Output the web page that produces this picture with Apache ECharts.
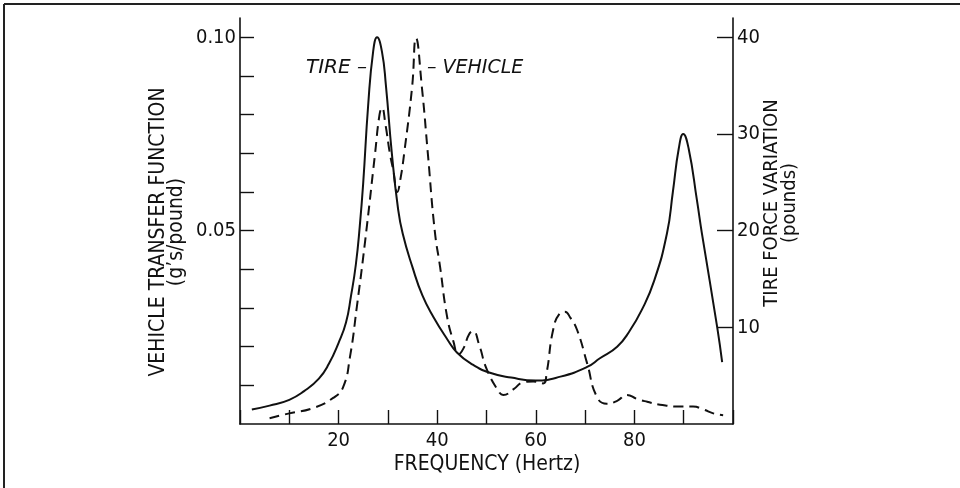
<!DOCTYPE html>
<html>
<head>
<meta charset="utf-8">
<script src="https://cdn.jsdelivr.net/npm/echarts@6/dist/echarts.min.js"></script>
<style>html,body{margin:0;padding:0;background:#fff}#c{width:960px;height:488px}</style>
</head>
<body>
<div id="c"></div>
<script>
// Frequency (Hertz) and tire force variation (pounds) – solid curve
const tireFreq = [2.4, 6, 10, 13, 16, 18, 20, 21.5, 22.5, 23.5, 24.3, 25, 26, 27, 27.8, 28.8, 29.6, 30.8, 32, 33, 35, 37, 39.2, 42, 44, 47, 50.7, 55, 60, 65, 70.4, 73, 76.5, 79, 81.5, 84, 86.6, 87.8, 89, 89.9, 91, 92.7, 93.7, 96.8, 97.8];
const tireForce = [1.5, 1.9, 2.5, 3.4, 4.7, 6.2, 8.4, 10.5, 13.2, 16.5, 20.5, 25, 33, 38.5, 40, 38.5, 35, 28, 22.5, 19.7, 16.2, 13.3, 11.1, 8.8, 7.4, 6.2, 5.3, 4.8, 4.5, 4.9, 5.9, 6.8, 8, 9.6, 11.8, 14.8, 19.7, 24, 28.5, 30, 28.5, 23.1, 19.7, 10, 6.4];
// Frequency (Hertz) and vehicle transfer function (g's/pound) – dashed curve
const vehFreq = [6, 10, 14.8, 18.9, 20.9, 22.3, 23.7, 25.4, 27.4, 28.3, 28.8, 29.5, 30.4, 31.1, 31.9, 32.6, 33.3, 34.9, 35.7, 36.9, 38.1, 39.5, 40.6, 42, 43.3, 44.3, 45.3, 46.5, 47.3, 48.5, 50.1, 52.7, 53.4, 55.5, 57.4, 59.5, 61.5, 62.2, 63.5, 64.8, 65.9, 67, 68.4, 70.4, 72.4, 74.4, 76.5, 78.5, 80.5, 82.6, 85.2, 89.3, 91.9, 94, 96, 98];
const vehTransfer = [0.0015, 0.00275, 0.0041, 0.00675, 0.0095, 0.0173, 0.0303, 0.0475, 0.07, 0.08, 0.0818, 0.0775, 0.07, 0.0655, 0.06, 0.0638, 0.07, 0.087, 0.0998, 0.087, 0.07, 0.05, 0.0405, 0.0278, 0.0213, 0.018, 0.0195, 0.0233, 0.024, 0.0205, 0.014, 0.008, 0.0075, 0.009, 0.01075, 0.011, 0.0105, 0.01325, 0.02425, 0.0285, 0.029, 0.0275, 0.02425, 0.01575, 0.007, 0.00525, 0.006, 0.0075, 0.0065, 0.00575, 0.005, 0.0045, 0.0045, 0.00375, 0.00275, 0.00225];
const xTickLabels = [20, 40, 60, 80];
const leftTickLabels = [0.05, 0.10];
const leftTicks = [0.01, 0.02, 0.03, 0.04, 0.05, 0.06, 0.07, 0.08, 0.09, 0.10];
const rightTicks = [10, 20, 30, 40];

const FONT = "'DejaVu Sans Condensed', 'Liberation Sans Narrow', 'Liberation Sans', sans-serif";
const IFONT = "'DejaVu Sans', 'Liberation Sans', sans-serif";
const chart = echarts.init(document.getElementById('c'), null, {renderer: 'canvas'});
const zip = (a, b) => a.map((v, i) => [v, b[i]]);
const axisLine = {show: true, lineStyle: {color: '#111', width: 1.6}};

chart.setOption({
  animation: false,
  backgroundColor: '#fff',
  grid: {left: 240, right: 227, top: 18, bottom: 64, containLabel: false},
  xAxis: {
    type: 'value', min: 0, max: 100, interval: 10,
    axisLine: axisLine,
    axisTick: {show: true, inside: true, length: 14, lineStyle: {color: '#111', width: 1.4}},
    axisLabel: {customValues: xTickLabels, margin: 7, color: '#111', fontSize: 20, fontFamily: FONT},
    splitLine: {show: false}
  },
  yAxis: [
    {
      type: 'value', min: 0, max: 0.105, position: 'left',
      axisLine: axisLine,
      axisTick: {show: true, inside: true, length: 14, customValues: leftTicks, lineStyle: {color: '#111', width: 1.4}},
      axisLabel: {customValues: leftTickLabels, margin: 4, color: '#111', fontSize: 20, fontFamily: FONT,
        formatter: v => v.toFixed(2)},
      splitLine: {show: false}
    },
    {
      type: 'value', min: 0, max: 42, position: 'right',
      axisLine: axisLine,
      axisTick: {show: true, inside: true, length: 16, customValues: rightTicks, lineStyle: {color: '#111', width: 1.4}},
      axisLabel: {customValues: rightTicks, margin: 4, color: '#111', fontSize: 20, fontFamily: FONT},
      splitLine: {show: false}
    }
  ],
  series: [
    {
      name: 'TIRE', type: 'line', yAxisIndex: 1, data: zip(tireFreq, tireForce),
      smooth: 0.5, showSymbol: false,
      lineStyle: {color: '#111', width: 2}
    },
    {
      name: 'VEHICLE', type: 'line', yAxisIndex: 0, data: zip(vehFreq, vehTransfer),
      smooth: 0.5, showSymbol: false,
      lineStyle: {color: '#111', width: 2, type: [10, 6]}
    }
  ],
  graphic: [
    {type: 'line', shape: {x1: 4, y1: 4, x2: 960, y2: 4}, style: {stroke: '#222', lineWidth: 2}},
    {type: 'line', shape: {x1: 4, y1: 4, x2: 4, y2: 488}, style: {stroke: '#222', lineWidth: 2}},
    {type: 'text', x: 168, y: 232, rotation: Math.PI / 2,
      style: {text: 'VEHICLE TRANSFER FUNCTION\n(g\u2019s/pound)', textAlign: 'center', textVerticalAlign: 'middle',
        font: '21px ' + FONT, lineHeight: 18, fill: '#111'}},
    {type: 'text', x: 781, y: 203, rotation: Math.PI / 2,
      style: {text: 'TIRE FORCE VARIATION\n(pounds)', textAlign: 'center', textVerticalAlign: 'middle',
        font: '20px ' + FONT, lineHeight: 18, fill: '#111'}},
    {type: 'text', x: 487, y: 465,
      style: {text: 'FREQUENCY (Hertz)', textAlign: 'center', textVerticalAlign: 'middle',
        font: '21px ' + FONT, fill: '#111'}},
    {type: 'text', x: 367, y: 68,
      style: {text: 'TIRE \u2013', textAlign: 'right', textVerticalAlign: 'middle',
        font: 'italic 20px ' + IFONT, fill: '#111'}},
    {type: 'text', x: 427, y: 68,
      style: {text: '\u2013 VEHICLE', textAlign: 'left', textVerticalAlign: 'middle',
        font: 'italic 19px ' + IFONT, fill: '#111'}}
  ]
});
</script>
</body>
</html>
